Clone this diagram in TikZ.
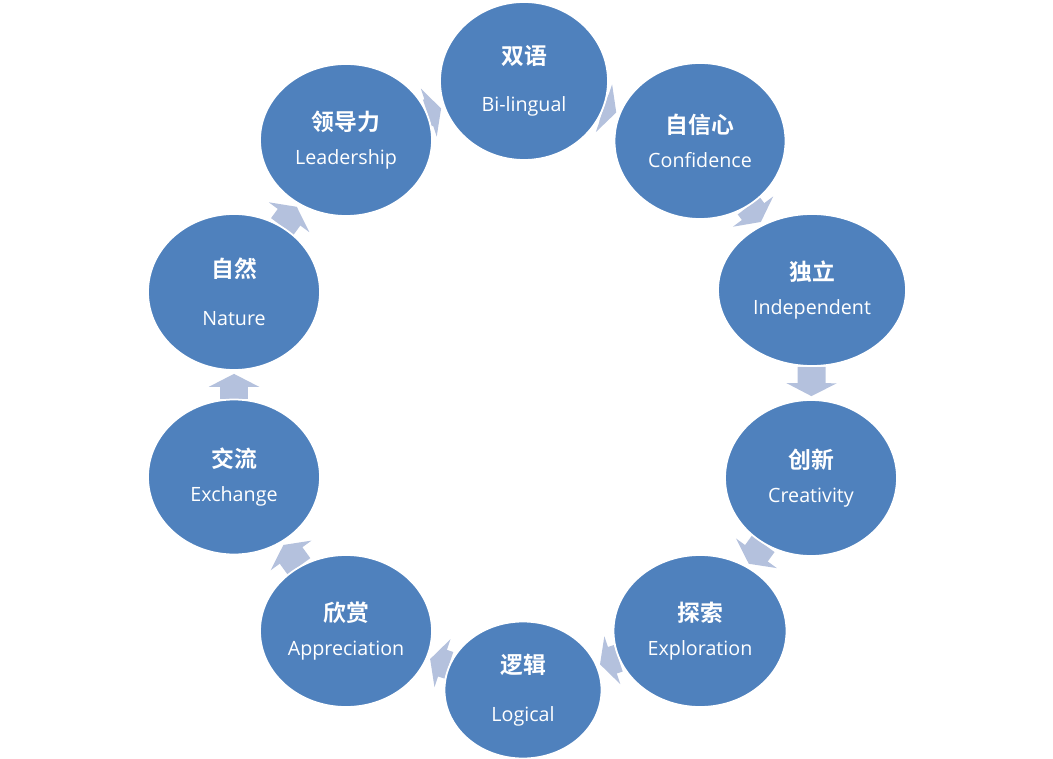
\documentclass[tikz,border=0pt]{standalone}
\usepackage{fontspec}
\setmainfont{Open Sans}
\newfontfamily\cnfont{Noto Sans CJK SC}[BoldFont={* Bold}]
\usetikzlibrary{shapes.geometric,arrows.meta,backgrounds}

\definecolor{bubbleblue}{RGB}{79,129,189}
\definecolor{flowgrey}{RGB}{180,193,221}

% Chinese title over English name; optional extra gap between the lines
\newcommand{\bubbletext}[3][0pt]{{\cnfont\bfseries\fontsize{13}{15}\selectfont #2}\\[#1]#3}

\begin{document}
\begin{tikzpicture}[
  x=0.02cm, y=-0.02cm,
  every node/.style={font=\fontsize{11.2}{19}\selectfont},
  % the ten round stations
  bubble/.style={
    ellipse,
    draw=white,
    line width=1pt,
    fill=bubbleblue,
    text=white,
    align=center,
    inner sep=0pt
  },
  % fat grey arrows between neighbouring stations
  flow/.style={
    draw=flowgrey,
    line width=0.56cm,
    -{Triangle[width=1.0cm,length=0.26cm]},
    shorten >=0.06cm
  }
]

\useasboundingbox (0,0) rectangle (1053,759);

% Stations, clockwise from the top
\node[bubble, minimum width=3.36cm, minimum height=3.16cm] (bil) at (524,81) {\bubbletext[8pt]{双语}{Bi-lingual}};
\node[bubble, minimum width=3.42cm, minimum height=3.12cm] (conf) at (700,141) {\bubbletext{自信心}{Confidence}};
\node[bubble, minimum width=3.76cm, minimum height=3.04cm] (indep) at (812,290) {\bubbletext{独立}{Independent}};
\node[bubble, minimum width=3.44cm, minimum height=3.12cm] (creat) at (811,478) {\bubbletext{创新}{Creativity}};
\node[bubble, minimum width=3.46cm, minimum height=3.04cm] (explor) at (700,631) {\bubbletext{探索}{Exploration}};
\node[bubble, minimum width=3.14cm, minimum height=2.74cm] (logic) at (523,690) {\bubbletext[8pt]{逻辑}{Logical}};
\node[bubble, minimum width=3.44cm, minimum height=3.04cm] (apprec) at (346,631) {\bubbletext{欣赏}{Appreciation}};
\node[bubble, minimum width=3.44cm, minimum height=3.10cm] (exch) at (234,477) {\bubbletext{交流}{Exchange}};
\node[bubble, minimum width=3.44cm, minimum height=3.12cm] (nature) at (234,292) {\bubbletext[8pt]{自然}{Nature}};
\node[bubble, minimum width=3.44cm, minimum height=3.04cm] (lead) at (346,140) {\bubbletext{领导力}{Leadership}};

% Arrows sit behind the stations
\begin{scope}[on background layer]
  \foreach \from/\to in {bil/conf, conf/indep, indep/creat, creat/explor, explor/logic,
                         logic/apprec, apprec/exch, exch/nature, nature/lead, lead/bil}
    \draw[flow] (\from) -- (\to);
\end{scope}

\end{tikzpicture}
\end{document}
